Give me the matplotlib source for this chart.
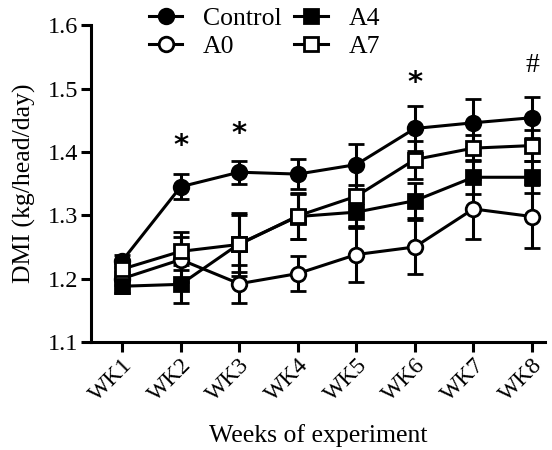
import matplotlib
matplotlib.use("Agg")
import matplotlib.pyplot as plt
from matplotlib.lines import Line2D
import numpy as np

weeks = ["WK1", "WK2", "WK3", "WK4", "WK5", "WK6", "WK7", "WK8"]
control = [1.228, 1.345, 1.368, 1.365, 1.380, 1.437, 1.446, 1.454]
control_err = [0.010, 0.020, 0.018, 0.024, 0.032, 0.036, 0.038, 0.032]
a0 = [1.200, 1.230, 1.192, 1.208, 1.238, 1.250, 1.310, 1.298]
a0_err = [0.010, 0.035, 0.030, 0.027, 0.043, 0.042, 0.048, 0.050]
a4 = [1.188, 1.191, 1.255, 1.298, 1.305, 1.323, 1.360, 1.360]
a4_err = [0.010, 0.030, 0.045, 0.036, 0.022, 0.028, 0.027, 0.025]
a7 = [1.215, 1.243, 1.254, 1.299, 1.330, 1.388, 1.406, 1.410]
a7_err = [0.010, 0.030, 0.050, 0.036, 0.050, 0.030, 0.020, 0.024]
sig_labels = ["", "*", "*", "", "", "*", "", "#"]
sig_y = [None, 1.410, 1.428, None, None, 1.508, None, 1.536]

plt.rcParams['font.family'] = ['Liberation Serif', 'DejaVu Serif']

fig = plt.figure(figsize=(5.52, 4.5), dpi=100)
ax = fig.add_axes([0.165, 0.24, 0.822, 0.704])

x = np.arange(1, len(weeks) + 1)
series = [
    ("Control", control, control_err, 'o', 'black'),
    ("A0", a0, a0_err, 'o', 'white'),
    ("A4", a4, a4_err, 's', 'black'),
    ("A7", a7, a7_err, 's', 'white'),
]
handles = []
for name, vals, err, mk, fc in series:
    ms = 10.5 if mk == 'o' else 10
    ax.errorbar(x, vals, yerr=err, color='black', lw=2.2, marker=mk,
                markersize=ms, markerfacecolor=fc,
                markeredgecolor='black', markeredgewidth=2,
                capsize=6, capthick=2.2, elinewidth=2.2)
    handles.append(Line2D([], [], color='black', lw=2.2, marker=mk, markersize=ms,
                          markerfacecolor=fc, markeredgecolor='black',
                          markeredgewidth=2, label=name))

for xi, lab, yy in zip(x, sig_labels, sig_y):
    if lab:
        if lab == "*":
            ax.text(xi, yy, lab, ha='center', va='center', fontsize=21,
                    fontweight='bold', family=['DejaVu Sans'])
        else:
            ax.text(xi, yy, lab, ha='center', va='center', fontsize=20)

ax.set_xlim(0.47, 8.22)
ax.set_ylim(1.1, 1.6)
ax.set_yticks([1.1, 1.2, 1.3, 1.4, 1.5, 1.6])
ax.set_yticklabels(["1.1", "1.2", "1.3", "1.4", "1.5", "1.6"], fontsize=17.5)
ax.set_xticks(x)
ax.set_xticklabels(weeks, rotation=45, ha='right', rotation_mode='anchor', fontsize=17)
for s in ['top', 'right']:
    ax.spines[s].set_visible(False)
for s in ['left', 'bottom']:
    ax.spines[s].set_linewidth(2.2)
ax.tick_params(width=2.2, length=7, direction='out', pad=2)
ax.set_ylabel("DMI (kg/head/day)", fontsize=18.5, labelpad=9)
ax.set_xlabel("Weeks of experiment", fontsize=18.5, labelpad=13)

ax.legend(handles, ["Control", "A0", "A4", "A7"], ncol=2, loc='upper left',
          bbox_to_anchor=(0.105, 1.09), frameon=False, fontsize=18.5,
          handlelength=1.3, handletextpad=0.8, columnspacing=0.5,
          labelspacing=0.2, borderaxespad=0)

fig.savefig("out.png", dpi=100)
